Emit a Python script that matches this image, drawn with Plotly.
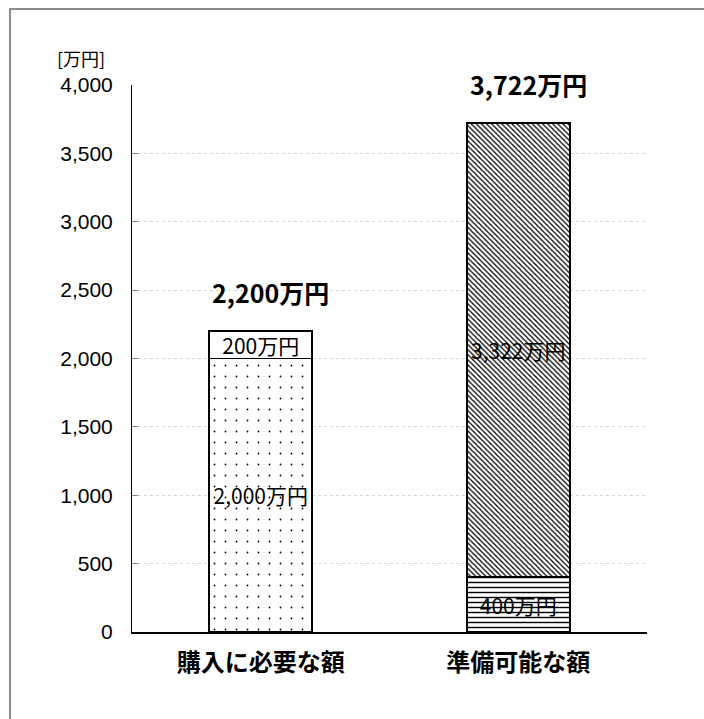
import plotly.graph_objects as go

categories = ["購入に必要な額", "準備可能な額"]
bottom_values = [2000, 400]
top_values = [200, 3322]
y_ticks = [0, 500, 1000, 1500, 2000, 2500, 3000, 3500, 4000]
unit_label = "[万円]"

totals = [b + t for b, t in zip(bottom_values, top_values)]

JP = "Noto Sans CJK JP"
LAT = "Liberation Sans, Arial"

fig = go.Figure()

fig.add_trace(go.Bar(
    x=categories, y=bottom_values,
    text=[f"{v:,}万円" for v in bottom_values],
    textposition="inside", insidetextanchor="middle", textangle=0,
    constraintext="none",
    textfont=dict(family=JP, size=21, color="black"),
    marker=dict(
        color="white",
        line=dict(color="black", width=1.8),
        pattern=dict(shape=[".", "-"], size=[11, 5], solidity=[0.02, 0.28],
                     fgcolor="black", bgcolor="white", fillmode="replace"),
    ),
    width=0.4, showlegend=False, hoverinfo="skip",
))

fig.add_trace(go.Bar(
    x=categories, y=top_values,
    text=[f"{v:,}万円" for v in top_values],
    textposition="inside", insidetextanchor="middle", textangle=0,
    constraintext="none",
    textfont=dict(family=JP, size=21, color="black"),
    marker=dict(
        color="white",
        line=dict(color="black", width=1.8),
        pattern=dict(shape=["", "\\"], size=[8, 3.6], solidity=[0.2, 0.35],
                     fgcolor="black", bgcolor="white", fillmode="replace"),
    ),
    width=0.4, showlegend=False, hoverinfo="skip",
))

for c, t in zip(categories, totals):
    fig.add_annotation(
        x=c, y=t, xref="x", yref="y",
        text=f"<b>{t:,}万円</b>", showarrow=False,
        yanchor="middle", yshift=39, xshift=10,
        font=dict(family=JP, size=25, color="black"),
    )

fig.add_annotation(
    x=-0.048, y=1.0, xref="paper", yref="paper",
    text=unit_label, showarrow=False, xanchor="right", yanchor="middle",
    yshift=27, font=dict(family=JP, size=18, color="black"),
)

fig.add_shape(
    type="rect", xref="paper", yref="paper",
    x0=-0.2369, x1=1.3, y0=-0.3, y1=1.1389,
    line=dict(color="#8c8c8c", width=2), fillcolor="rgba(0,0,0,0)",
    layer="below",
)

fig.update_layout(
    width=704, height=719, autosize=False,
    margin=dict(l=132, r=57, t=85, b=87),
    paper_bgcolor="white", plot_bgcolor="white",
    barmode="stack", bargap=0.6,
    font=dict(family=LAT, color="black"),
)

fig.update_xaxes(
    showline=True, linecolor="black", linewidth=1.5,
    ticks="", showgrid=False,
    tickfont=dict(family=JP, size=24, color="black"),
    ticklabelstandoff=8,
    tickprefix="<b>", ticksuffix="</b>",
)

fig.update_yaxes(
    range=[0, 4000], tickvals=y_ticks,
    tickformat=",d",
    showline=True, linecolor="black", linewidth=1,
    ticks="inside", ticklen=6, tickcolor="#888888",
    showgrid=True, gridcolor="#d4d4d4", griddash="dot", gridwidth=1,
    zeroline=False,
    tickfont=dict(family=LAT, size=21, color="black"),
    ticklabelstandoff=14,
)

fig.write_html(
    "out.html",
    config={"displayModeBar": False},
    post_script="document.body.style.margin='0';document.body.style.overflow='hidden';",
)
